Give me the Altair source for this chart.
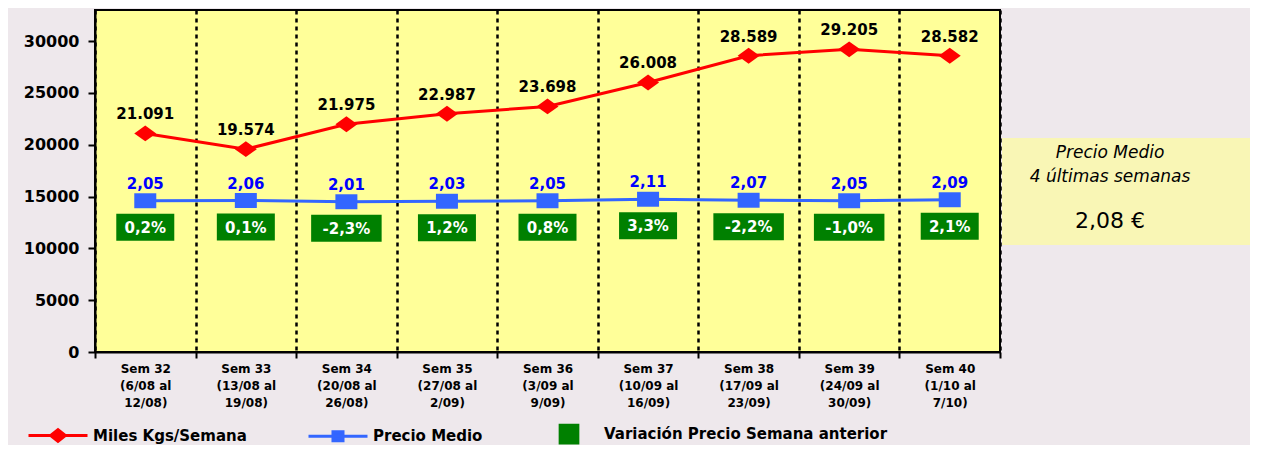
import altair as alt
import pandas as pd

# ---------------- data ----------------
semanas = [
    "Sem 32\n(6/08 al\n12/08)",
    "Sem 33\n(13/08 al\n19/08)",
    "Sem 34\n(20/08 al\n26/08)",
    "Sem 35\n(27/08 al\n2/09)",
    "Sem 36\n(3/09 al\n9/09)",
    "Sem 37\n(10/09 al\n16/09)",
    "Sem 38\n(17/09 al\n23/09)",
    "Sem 39\n(24/09 al\n30/09)",
    "Sem 40\n(1/10 al\n7/10)",
]
miles_kgs = [21091, 19574, 21975, 22987, 23698, 26008, 28589, 29205, 28582]
precio_medio = [2.05, 2.06, 2.01, 2.03, 2.05, 2.11, 2.07, 2.05, 2.09]
variacion = [0.2, 0.1, -2.3, 1.2, 0.8, 3.3, -2.2, -1.0, 2.1]
y_ticks = [0, 5000, 10000, 15000, 20000, 25000, 30000]
series = ["Miles Kgs/Semana", "Precio Medio", "Variación Precio Semana anterior"]
panel_lines = ["Precio Medio", "4 últimas semanas"]


def es_miles(v):
    return f"{v:,}".replace(",", ".")


def es_dec(v, d):
    return f"{v:.{d}f}".replace(".", ",")


df = pd.DataFrame({
    "semana": semanas,
    "idx": list(range(len(semanas))),
    "kgs": miles_kgs,
    "precio": precio_medio,
    "var": variacion,
    "kgs_lbl": [es_miles(v) for v in miles_kgs],
    "precio_lbl": [es_dec(v, 2) for v in precio_medio],
    "var_lbl": [es_dec(v, 1) + "%" for v in variacion],
})
promedio = sum(precio_medio[-4:]) / 4
promedio_lbl = es_dec(promedio, 2) + " €"

# ---------------- style ----------------
FONT = "DejaVu Sans"
RED = "#FF0000"
BLUE = "#3366FF"
LBLUE = "#0000FF"
GREEN = "#008000"
W, H = 905, 342

x_scale = alt.Scale(domain=semanas, paddingInner=0, paddingOuter=0)
kgs_scale = alt.Scale(domain=[0, 33000], nice=False, zero=True)
price_scale = alt.Scale(domain=[-4, 9.68], nice=False, zero=False)

x_axis = alt.Axis(
    title=None, labelAngle=0, labelExpr="split(datum.label, '\\n')",
    labelFont=FONT, labelFontSize=12, labelFontWeight="bold", labelColor="black",
    labelLineHeight=17, labelPadding=5, labelBaseline="top",
    tickBand="extent", tickSize=6, tickWidth=2, tickColor="black",
    domainColor="black", domainWidth=2,
    grid=True, gridColor="black", gridDash=[4, 4], gridWidth=2.5, gridOpacity=1,
)
y_axis = alt.Axis(
    title=None, values=y_ticks, format="d", grid=False,
    labelFont=FONT, labelFontSize=16, labelFontWeight="bold", labelColor="black",
    labelPadding=9, tickSize=7, tickWidth=2, tickColor="black",
    domainColor="black", domainWidth=2,
)


def xenc(axis=None):
    return alt.X("semana:N", scale=x_scale, sort=None, axis=axis)


def ykgs(axis=None):
    return alt.Y("kgs:Q", scale=kgs_scale, axis=axis)


def yprice():
    return alt.Y("precio:Q", scale=price_scale, axis=None)


base = alt.Chart(df)

line_kgs = base.mark_line(color=RED, strokeWidth=3).encode(x=xenc(x_axis), y=ykgs(y_axis))
pts_kgs = base.mark_point(
    shape="M-1,0L0,-0.72L1,0L0,0.72Z", filled=True, size=484, color=RED, opacity=1
).encode(x=xenc(), y=ykgs())
txt_kgs = base.mark_text(
    font=FONT, fontSize=15, fontWeight="bold", color="black", dy=-19
).encode(x=xenc(), y=ykgs(), text="kgs_lbl:N")

line_pr = base.mark_line(color=BLUE, strokeWidth=3).encode(x=xenc(), y=yprice())
pts_pr = base.mark_point(
    shape="M-1,-0.68H1V0.68H-1Z", filled=True, size=484, color=BLUE, opacity=1
).encode(x=xenc(), y=yprice())
txt_pr = base.mark_text(
    font=FONT, fontSize=15, fontWeight="bold", color=LBLUE, dy=-17
).encode(x=xenc(), y=yprice(), text="precio_lbl:N")

boxes = base.transform_calculate(
    hw=f"(length(datum.var_lbl) * 12.5 + 8) / 2 / ({W} / {len(semanas)})"
).transform_calculate(
    x1="datum.idx - datum.hw", x2="datum.idx + datum.hw"
).mark_rect(color=GREEN, yOffset=13, y2Offset=40).encode(
    x=alt.X("x1:Q", scale=alt.Scale(domain=[-0.5, len(semanas) - 0.5], nice=False, zero=False), axis=None),
    x2="x2:Q",
    y=yprice(),
    y2=alt.Y2("precio:Q"),
)
txt_box = base.mark_text(
    font=FONT, fontSize=15, fontWeight="bold", color="white", dy=27
).encode(x=xenc(), y=yprice(), text="var_lbl:N")

# legend (built from colour / shape scales)
leg_shapes = [
    "M-1,0H1M0,-0.2L0.25,0L0,0.2L-0.25,0Z",
    "M-1,0H1M-0.17,-0.15H0.17V0.15H-0.17Z",
    "M-0.3,-0.3H0.3V0.3H-0.3Z",
]
leg_df = pd.DataFrame({"serie": series})
legend = alt.Legend(
    title=None, orient="none", direction="horizontal", legendX=-68, legendY=393,
    symbolSize=3481, symbolStrokeWidth=3, labelFont=FONT, labelFontSize=15,
    labelFontWeight="bold", labelColor="black", labelOffset=4, columnPadding=55,
    labelLimit=500, padding=0,
)
leg = alt.Chart(leg_df).mark_point(filled=True, strokeWidth=3, opacity=1).encode(
    x=alt.value(-600), y=alt.value(-600),
    fill=alt.Fill("serie:N", scale=alt.Scale(domain=series, range=[RED, BLUE, GREEN]), legend=legend),
    stroke=alt.Stroke("serie:N", scale=alt.Scale(domain=series, range=[RED, BLUE, GREEN]), legend=legend),
    shape=alt.Shape("serie:N", scale=alt.Scale(domain=series, range=leg_shapes), legend=legend),
)

# side panel (annotation)
one = pd.DataFrame({"k": [0]})
panel = alt.Chart(one).mark_rect(color="#FAF6B0", opacity=0.92).encode(
    x=alt.value(907), x2=alt.value(1155), y=alt.value(128), y2=alt.value(235)
)
p1 = alt.Chart(one).mark_text(
    text=panel_lines[0], font=FONT, fontStyle="italic", fontSize=17, color="black"
).encode(x=alt.value(1015), y=alt.value(143))
p2 = alt.Chart(one).mark_text(
    text=panel_lines[1], font=FONT, fontStyle="italic", fontSize=17, color="black"
).encode(x=alt.value(1015), y=alt.value(167))
p3 = alt.Chart(one).mark_text(
    text=promedio_lbl, font=FONT, fontSize=22, color="black"
).encode(x=alt.value(1015), y=alt.value(211))

chart = alt.layer(
    line_kgs, pts_kgs, txt_kgs, line_pr, pts_pr, txt_pr, boxes, txt_box, leg, panel, p1, p2, p3
).resolve_scale(
    x="independent", y="independent"
).properties(
    width=W, height=H,
    padding={"left": 87, "top": 2, "right": 250, "bottom": 93},
    autosize=alt.AutoSizeParams(type="none"),
    background="#EEE8EC",
).configure_view(fill="#FFFF99", stroke="black", strokeWidth=2)

chart.save("out.html", embed_options={"renderer": "svg", "actions": False})
